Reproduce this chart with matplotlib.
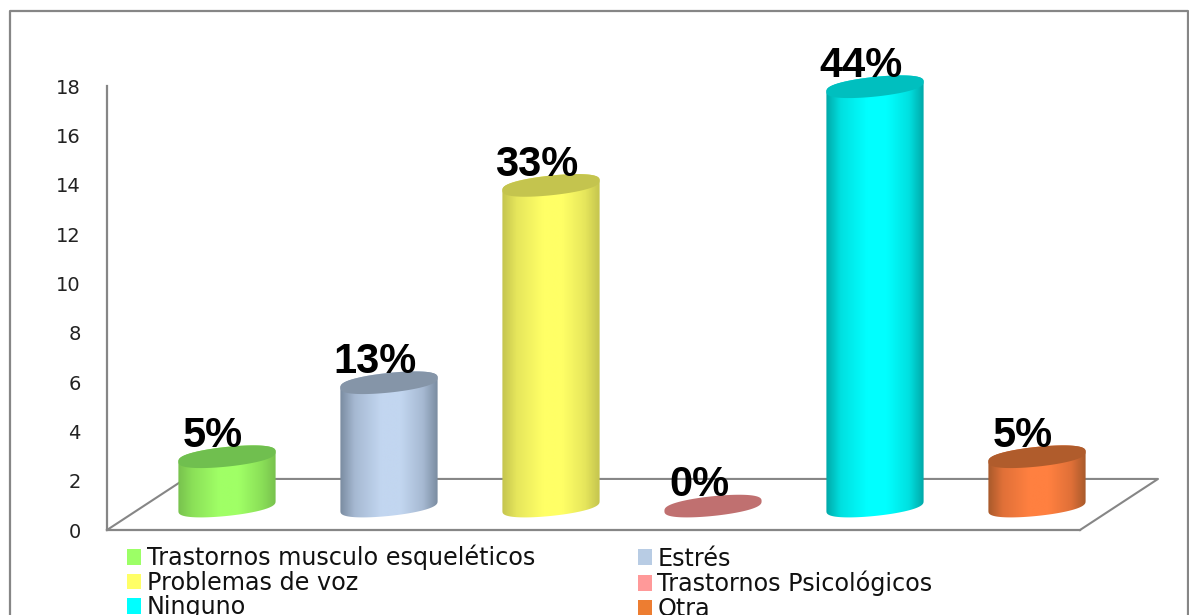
import numpy as np
import matplotlib
matplotlib.use("Agg")
import matplotlib.pyplot as plt
from matplotlib.colors import LinearSegmentedColormap
from matplotlib.lines import Line2D
from matplotlib.patches import Patch, Polygon

W, H = 1189, 615

# data
categories = ["Trastornos musculo esqueléticos", "Estrés", "Problemas de voz",
              "Trastornos Psicológicos", "Ninguno", "Otra"]
values = [2, 5, 13, 0, 17, 2]
pct_labels = ["5%", "13%", "33%", "0%", "44%", "5%"]
y_ticks = [0, 2, 4, 6, 8, 10, 12, 14, 16, 18]

# colours: lit side, half shade, shaded edge, top cap, legend swatch
light = ["#A0FF66", "#C2D6F0", "#FFFF66", "#FF9999", "#00FFFF", "#FF8040"]
mid = ["#8BE058", "#A6B9D2", "#E6E65C", "#E08787", "#00E0E0", "#E07038"]
dark = ["#78C24E", "#7A8BA0", "#C4C44E", "#B36B6B", "#00A8A8", "#A85A2B"]
caps = ["#70BF4F", "#8595A8", "#C4C44E", "#C07070", "#00BFBF", "#B05C2C"]
swatch = ["#9CFF66", "#B8CCE4", "#FFFF66", "#FF9999", "#00FFFF", "#ED7D31"]

GREY = "#868686"
FLOOR = 0.97     # cylinders stand this far up the axis, on the 3D floor
HALF_W = 0.30    # cylinder half width, in category units
CAP_B = 0.40     # cap half height, in value units
CAP_TILT = 0.20  # cap tilt, in value units

fig = plt.figure(figsize=(W / 100, H / 100), dpi=100, facecolor="white")
ax = fig.add_axes([107 / W, (H - 530) / H, 973 / W, 444 / H])
ax.patch.set_visible(False)


def px_x(px):
    return (px - 227) / 162


def cap_points(cx, cy, t):
    # slightly squared-off tilted ellipse, the source's caps are fuller than a true one
    s = np.sin(t)
    return np.column_stack([cx + HALF_W * np.cos(t),
                            cy + CAP_B * np.sign(s) * np.abs(s) ** 0.75 + CAP_TILT * np.cos(t)])


# back edges of the floor
ax.plot([px_x(107), px_x(185), px_x(1158), px_x(1080)], [0, 2.07, 2.07, 0],
        color=GREY, lw=1.5, clip_on=False, zorder=1)

# cylinders
for i, v in enumerate(values):
    y0, y1 = FLOOR, FLOOR + v
    if v > 0:
        front = cap_points(i, y0, np.linspace(np.pi, 2 * np.pi, 60))
        back = cap_points(i, y1, np.linspace(0, np.pi, 60))
        body = Polygon(np.vstack([front, back]), closed=True, fc="none", ec="none",
                       transform=ax.transData)
        ax.add_patch(body)
        cmap = LinearSegmentedColormap.from_list(
            f"cyl{i}", [(0, dark[i]), (0.15, mid[i]), (0.42, light[i]),
                        (0.62, light[i]), (0.85, mid[i]), (1, dark[i])])
        im = ax.imshow(np.linspace(0, 1, 256)[None, :], cmap=cmap, aspect="auto",
                       extent=[i - HALF_W, i + HALF_W, y0 - 1, y1 + 1],
                       interpolation="bilinear", zorder=2)
        im.set_clip_path(body)
        im.set_clip_box(fig.bbox)
    top = cap_points(i, y1, np.linspace(0, 2 * np.pi, 120))
    ax.add_patch(Polygon(top, closed=True, fc=caps[i], ec="none",
                         clip_on=False, zorder=3))
    ax.text(i - 0.086, v + 1.36, pct_labels[i], ha="center", va="baseline",
            fontsize=30, fontweight="bold", family="Liberation Sans",
            color="black", zorder=5)

ax.set_xlim(px_x(107), px_x(1080))
ax.set_ylim(0, 18)
ax.set_xticks([])
ax.set_yticks(y_ticks)
ax.tick_params(axis="y", length=0, pad=19, labelsize=14, labelcolor="#222222")
for side in ["top", "right"]:
    ax.spines[side].set_visible(False)
for side in ["left", "bottom"]:
    ax.spines[side].set_color(GREY)
    ax.spines[side].set_linewidth(1.6)

# legend runs off the bottom of the picture, like the source
order = [0, 2, 4, 1, 3, 5]
handles = [Patch(fc=swatch[i], ec="none") for i in order]
ax.legend(handles, [categories[i] for i in order], ncols=2, frameon=False,
          loc="upper left", bbox_to_anchor=(127 / W, (H - 545) / H),
          bbox_transform=fig.transFigure, borderaxespad=0, borderpad=0,
          fontsize=17.2, handlelength=0.6, handleheight=0.6, handletextpad=0.22,
          labelspacing=0.02, columnspacing=4.3, labelcolor="#111111")

# chart frame, its bottom edge is cropped away
fx = [10 / W, 10 / W, 1188 / W, 1188 / W]
fy = [0, (H - 11) / H, (H - 11) / H, 0]
fig.add_artist(Line2D(fx, fy, color=GREY, lw=1.6, transform=fig.transFigure))

fig.savefig("out.png", dpi=100, facecolor="white")
